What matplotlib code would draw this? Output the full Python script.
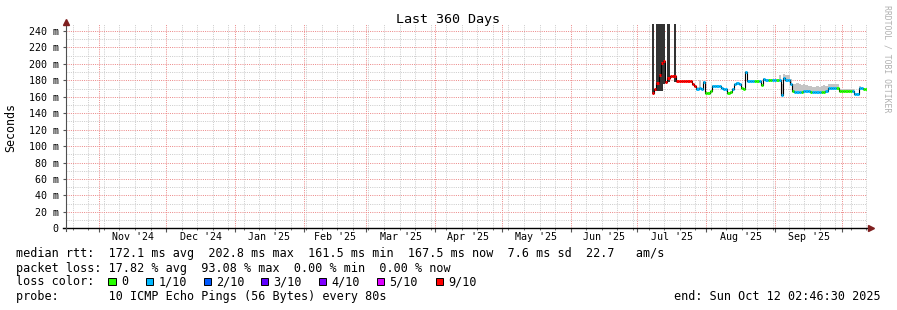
import matplotlib
matplotlib.use('Agg')
import matplotlib.pyplot as plt
import matplotlib.dates as mdates
from matplotlib.patches import Rectangle
import numpy as np
import pandas as pd

W, H = 897, 310
MONO = 'DejaVu Sans Mono'

END = pd.Timestamp('2025-10-12 02:46:30')
START = END - pd.Timedelta(days=360)

# one value per day, starting 8 Jul 2025 (ms)
first_day = '2025-07-08'
median = [165, 169, 177, 187, 201, 204, 178, 183, 185, 185, 185,
          179, 179, 179, 179, 179, 179, 179, 176, 173,
          170, 171, 170, 178, 165, 165, 166.5,
          173, 173, 173, 172.5, 171, 170, 169,
          165, 166, 170, 175, 177, 175.5, 171, 169, 190,
          179, 179, 179, 179, 179, 179, 174, 182,
          180, 180, 180, 180, 180, 180,
          180, 162, 183, 180, 180, 176, 167.5, 165.5, 165.5, 165.5,
          166, 166.5, 166.5, 166.5, 166, 165.5, 165.5, 165.5, 165.5,
          166, 166, 167, 171, 171, 171, 171, 171, 167.5,
          167.5, 167.5, 167.5, 167.5, 167.5, 167.5,
          163, 163, 171, 171, 170, 169]

# packet loss in tenths
loss = [9] * 20 + [1] * 4 + [0] * 3 + [1] * 7 + [0] * 2 + [1] * 4 + [0] * 2 \
    + [1] * 4 + [0] * 2 + [1] + [0] + [1] * 2 + [0] * 2 + [1] * 2 + [0] \
    + [1] * 6 + [0] + [1] * 3 + [0] + [1] * 3 + [0] + [1] * 4 + [0] * 2 \
    + [1] * 5 + [0] * 7 + [1] * 5 + [0] * 2

# upper edge of the light smoke (ms)
smoke_hi = [165, 169, 177, 187, 201, 204, 178, 183, 185, 185, 185,
            179, 179, 179, 179, 179, 179, 179, 176, 173,
            172, 180, 171, 179, 166, 166, 167,
            174, 174, 174, 173, 172, 171, 170,
            166, 167, 171, 176, 178, 176, 172, 170, 191,
            180, 180, 180, 180, 180, 180, 175, 183,
            181, 181, 181, 181, 181, 181,
            186, 175, 188, 187, 186, 182, 175, 176, 177, 175,
            174, 176, 174, 173, 173, 172, 172, 173, 172,
            173, 174, 173, 175, 176, 176, 175, 176, 170,
            169, 169, 169, 169, 169, 169,
            165, 165, 173, 172, 171, 170]

# dark smoke columns that run off the top of the chart
bar_days = ['2025-07-08', '2025-07-10', '2025-07-11', '2025-07-12',
            '2025-07-13', '2025-07-15', '2025-07-18']
bar_lo = [163, 167, 167, 167, 175, 178, 178]

loss_colors = {0: '#26ff00', 1: '#00b8ff', 2: '#0059ff', 3: '#5e00ff',
               4: '#7e00ff', 5: '#dd00ff', 9: '#ff0000'}
legend_loss = ['0', '1/10', '2/10', '3/10', '4/10', '5/10', '9/10']
legend_colors = ['#26ff00', '#00b8ff', '#0059ff', '#5e00ff', '#7e00ff',
                 '#dd00ff', '#ff0000']
legend_box_x = [108.3, 146, 203.7, 260.7, 318.7, 376.7, 435.7]

month_labels = ["Nov '24", "Dec '24", "Jan '25", "Feb '25", "Mar '25",
                "Apr '25", "May '25", "Jun '25", "Jul '25", "Aug '25",
                "Sep '25"]

rtt_line = ('median rtt:  172.1 ms avg  202.8 ms max  161.5 ms min  '
            '167.5 ms now  7.6 ms sd  22.7   am/s')
loss_line = 'packet loss: 17.82 % avg  93.08 % max  0.00 % min  0.00 % now'
probe_line = 'probe:       10 ICMP Echo Pings (56 Bytes) every 80s'
end_line = 'end: Sun Oct 12 02:46:30 2025'


def fx(x):
    return x / W


def fy(y):
    return 1 - y / H


def main():
    fig = plt.figure(figsize=(W / 100, H / 100), dpi=100)
    ax = fig.add_axes([66.3 / W, (H - 228.3) / H, 800.4 / W, 204.3 / H])

    days = pd.date_range(first_day, periods=len(median), freq='D')
    x = mdates.date2num(days)
    med = np.array(median, dtype=float)
    lossarr = np.array(loss)

    red = '#ec8a8a'
    gray = '#cccccc'

    # dotted grid
    month_starts = pd.date_range('2024-11-01', '2025-10-01', freq='MS')
    ax.set_xticks(mdates.date2num(month_starts))
    ax.xaxis.set_minor_locator(mdates.WeekdayLocator(byweekday=mdates.SU))
    ax.set_yticks(range(0, 241, 20))
    ax.set_yticks(range(0, 250, 10), minor=True)
    ax.set_yticklabels(['0'] + [f'{v} m' for v in range(20, 241, 20)],
                       family=MONO, fontsize=7.2)
    ax.set_xticklabels([])
    ax.grid(which='minor', color=gray, lw=0.72, linestyle=(0, (1, 1.2)))
    ax.grid(which='major', color=red, lw=0.72, linestyle=(0, (1, 1.2)))
    ax.set_axisbelow(True)
    ax.tick_params(axis='y', which='major', length=2, color='#555555',
                   pad=3.5)
    ax.tick_params(axis='y', which='minor', length=0)
    ax.tick_params(axis='x', which='major', length=3, color='#555555')
    ax.tick_params(axis='x', which='minor', length=1.5, color='#555555')
    for s in ax.spines.values():
        s.set_visible(False)

    # smoke
    ax.fill_between(x, med, smoke_hi, step='mid', color='#c4c4c4', lw=0,
                    zorder=2)
    bx = mdates.date2num(pd.to_datetime(bar_days))
    ax.bar(bx, [300 - v for v in bar_lo], bottom=bar_lo, width=1.0,
           color='#333333', lw=0, zorder=3)

    # median line, coloured by loss
    ax.plot(x, med, drawstyle='steps-mid', color='black', lw=0.8, zorder=4)
    for lv, col in loss_colors.items():
        m = lossarr == lv
        if m.any():
            ax.hlines(med[m], x[m] - 0.5, x[m] + 0.5, colors=col, lw=2.1,
                      zorder=5)

    ax.set_xlim(mdates.date2num(START), mdates.date2num(END))
    ax.set_ylim(0, 248.5)

    # axes with arrows
    ax.plot([-0.004, 1.003], [0, 0], transform=ax.transAxes, color='black',
            lw=1.0, clip_on=False, zorder=6)
    ax.plot([0, 0], [-0.014, 1.0], transform=ax.transAxes, color='#505050',
            lw=0.8, clip_on=False, zorder=6)
    ax.plot([1.0055], [0], marker='>', ms=4, color='#7f1f1f',
            transform=ax.transAxes, clip_on=False, zorder=7)
    ax.plot([0], [1.008], marker='^', ms=4, color='#7f1f1f',
            transform=ax.transAxes, clip_on=False, zorder=7)

    # month labels in the middle of each month
    ms = mdates.date2num(month_starts)
    for i, lab in enumerate(month_labels):
        xm = (ms[i] + ms[i + 1]) / 2
        ax.text(xm, -10.5, lab, ha='center', va='center', family=MONO,
                fontsize=7.2)

    fig.text(fx(448), fy(19), 'Last 360 Days', ha='center', va='center',
             family=MONO, fontsize=9.6)
    fig.text(fx(11), fy(127), 'Seconds', rotation=90, ha='center',
             va='center', family=MONO, fontsize=8.4)
    fig.text(fx(887), fy(59), 'RRDTOOL / TOBI OETIKER', rotation=270,
             ha='center', va='center', family=MONO, fontsize=5.9,
             color='#b0b0b0')

    fig.text(fx(16), fy(254), rtt_line, va='center', family=MONO,
             fontsize=8.5)
    fig.text(fx(16), fy(268.3), loss_line, va='center', family=MONO,
             fontsize=8.5)
    fig.text(fx(16), fy(281.7), 'loss color:', va='center', family=MONO,
             fontsize=8.5)
    for bxp, lab, col in zip(legend_box_x, legend_loss, legend_colors):
        fig.patches.append(Rectangle((fx(bxp), fy(285.2)), 7.3 / W, 7.7 / H,
                                     transform=fig.transFigure,
                                     facecolor=col, edgecolor='black',
                                     lw=0.7))
        fig.text(fx(bxp + 12.5), fy(281.7), lab, va='center', family=MONO,
                 fontsize=8.5)
    fig.text(fx(16), fy(296.7), probe_line, va='center', family=MONO,
             fontsize=8.5)
    fig.text(fx(881), fy(296.7), end_line, ha='right', va='center',
             family=MONO, fontsize=8.5)

    fig.savefig('out.png', dpi=100)


main()
